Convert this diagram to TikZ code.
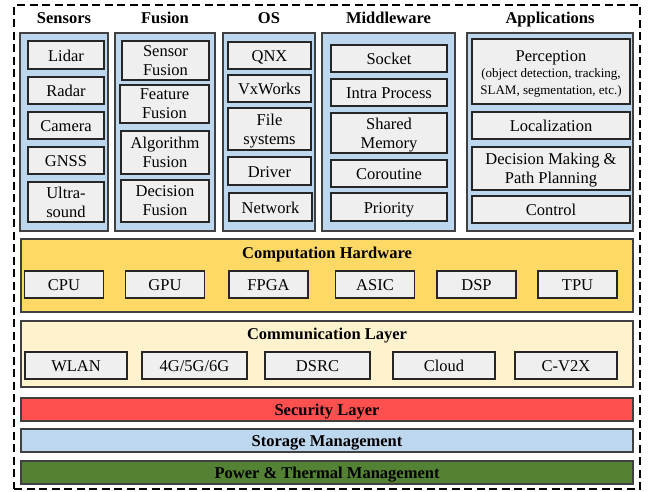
\documentclass[tikz,border=0pt]{standalone}
\usepackage{fontspec}
\setmainfont{Liberation Serif}
\definecolor{panelblue}{HTML}{BDD7EE}
\definecolor{itemgray}{HTML}{EFEFEF}
\definecolor{compgold}{HTML}{FFD966}
\definecolor{commcream}{HTML}{FFF2CC}
\definecolor{secred}{HTML}{FF5050}
\definecolor{powgreen}{HTML}{548235}
\begin{document}
\begin{tikzpicture}[x=1pt,y=-1pt,
  hdr/.style={font=\fontsize{16.5}{19}\selectfont\bfseries, inner sep=0pt, anchor=base},
  panel/.style={draw=black!75, fill=panelblue, line width=1.3pt, inner sep=0pt},
  band/.style={draw=black!75, line width=1.3pt, inner sep=0pt, minimum width=612pt, text height=11pt, text depth=0pt, font=\fontsize{16.5}{19}\selectfont\bfseries},
  itembox/.style={draw=black!85, fill=itemgray, line width=1.3pt, inner sep=0pt, align=center, font=\fontsize{16.5}{19}\selectfont},
  item/.style={itembox, text height=12pt, text depth=0pt},
  item2/.style={itembox, text depth=0pt},
  small/.style={font=\fontsize{13}{14}\selectfont, inner sep=0pt, anchor=base},
]
\useasboundingbox (0,0) rectangle (648,491);
\node[draw=black, line width=1.6pt, dash pattern=on 8pt off 4.5pt, minimum width=626pt, minimum height=484pt, inner sep=0pt] (outer) at (327,247) {};

% column headers
\node[hdr] (hSens) at (64,23.5) {Sensors};
\node[hdr] (hFus) at (165,23.5) {Fusion};
\node[hdr] (hOS) at (269,23.5) {OS};
\node[hdr] (hMid) at (388.5,23.5) {Middleware};
\node[hdr] (hApp) at (550,23.5) {Applications};

% panels
\node[panel, minimum width=88pt, minimum height=198pt] (pSens) at (64,132) {};
\node[panel, minimum width=100pt, minimum height=198pt] (pFus) at (165,132) {};
\node[panel, minimum width=92pt, minimum height=198pt] (pOS) at (269,132) {};
\node[panel, minimum width=133pt, minimum height=198pt] (pMid) at (388.5,132) {};
\node[panel, minimum width=166pt, minimum height=198pt] (pApp) at (550,132) {};

% sensors
\node[item, minimum width=76pt, minimum height=28pt] (lidar) at (66,55) {Lidar};
\node[item, minimum width=76pt, minimum height=27pt] (radar) at (66,90.5) {Radar};
\node[item, minimum width=76pt, minimum height=27pt] (camera) at (66,125.5) {Camera};
\node[item, minimum width=76pt, minimum height=27pt] (gnss) at (66,160.5) {GNSS};
\node[item2, minimum width=76pt, minimum height=40pt] (ultra) at (66,202) {Ultra-\\sound};

% fusion
\node[item2, minimum width=87pt, minimum height=39pt] (sfus) at (165.5,60.5) {Sensor\\Fusion};
\node[item2, minimum width=89pt, minimum height=38pt] (ffus) at (164.5,104) {Feature\\Fusion};
\node[item2, minimum width=88pt, minimum height=43pt] (afus) at (165,152.5) {Algorithm\\Fusion};
\node[item2, minimum width=88pt, minimum height=42pt] (dfus) at (165,201) {Decision\\Fusion};

% OS
\node[item, minimum width=83pt, minimum height=27pt] (qnx) at (269.5,55.5) {QNX};
\node[item, minimum width=83pt, minimum height=27pt] (vxw) at (269.5,88.5) {VxWorks};
\node[item2, minimum width=83pt, minimum height=42pt] (fsys) at (269.5,129) {File\\systems};
\node[item, minimum width=83pt, minimum height=28pt] (driver) at (269.5,171) {Driver};
\node[item, minimum width=83pt, minimum height=28pt] (netw) at (270.5,207) {Network};

% middleware
\node[item, minimum width=116pt, minimum height=27pt] (socket) at (389,58.5) {Socket};
\node[item, minimum width=116pt, minimum height=27pt] (intra) at (389,92.5) {Intra Process};
\node[item2, minimum width=116pt, minimum height=40pt] (shmem) at (389,133) {Shared\\Memory};
\node[item, minimum width=116pt, minimum height=27pt] (corout) at (389,173.5) {Coroutine};
\node[item, minimum width=116pt, minimum height=28pt] (prio) at (389,207) {Priority};

% applications
\node[itembox, minimum width=158pt, minimum height=65pt] (percep) at (551,71.5) {};
\node[hdr, font=\fontsize{16.5}{19}\selectfont] (percepT) at (551,61) {Perception};
\node[small] (percepS1) at (551,77.5) {(object detection, tracking,};
\node[small] (percepS2) at (551,94) {SLAM, segmentation, etc.)};
\node[item, minimum width=158pt, minimum height=27pt] (local) at (551,125.5) {Localization};
\node[item2, minimum width=158pt, minimum height=43pt] (decis) at (551,168.5) {Decision Making \&\\Path Planning};
\node[item, minimum width=158pt, minimum height=27pt] (ctrl) at (551,209.5) {Control};

% computation hardware
\node[band, fill=compgold, minimum height=73pt] (comp) at (327,275.5) {};
\node[hdr] (compT) at (327,258) {Computation Hardware};
\node[item, minimum width=79pt, minimum height=27pt] (cpu) at (64,284.5) {CPU};
\node[item, minimum width=79pt, minimum height=27pt] (gpu) at (165,284.5) {GPU};
\node[item, minimum width=79pt, minimum height=27pt] (fpga) at (268.5,284.5) {FPGA};
\node[item, minimum width=79pt, minimum height=27pt] (asic) at (375,284.5) {ASIC};
\node[item, minimum width=79pt, minimum height=27pt] (dsp) at (476.5,284.5) {DSP};
\node[item, minimum width=79pt, minimum height=27pt] (tpu) at (577.5,284.5) {TPU};

% communication layer
\node[band, fill=commcream, minimum height=66pt] (comm) at (327,354) {};
\node[hdr] (commT) at (327,339.5) {Communication Layer};
\node[item, minimum width=102pt, minimum height=27pt] (wlan) at (76,365.5) {WLAN};
\node[item, minimum width=105pt, minimum height=27pt] (g456) at (194.5,365.5) {4G/5G/6G};
\node[item, minimum width=105pt, minimum height=27pt] (dsrc) at (317.5,365.5) {DSRC};
\node[item, minimum width=102pt, minimum height=27pt] (cloud) at (444,365.5) {Cloud};
\node[item, minimum width=102pt, minimum height=27pt] (cv2x) at (566,365.5) {C-V2X};

% bottom bands
\node[band, fill=secred, minimum height=23pt] (sec) at (327,409.5) {Security Layer};
\node[band, fill=panelblue, minimum height=23pt] (stor) at (327,440.5) {Storage Management};
\node[band, fill=powgreen, minimum height=23pt] (pow) at (327,472.5) {Power \& Thermal Management};
\end{tikzpicture}
\end{document}
